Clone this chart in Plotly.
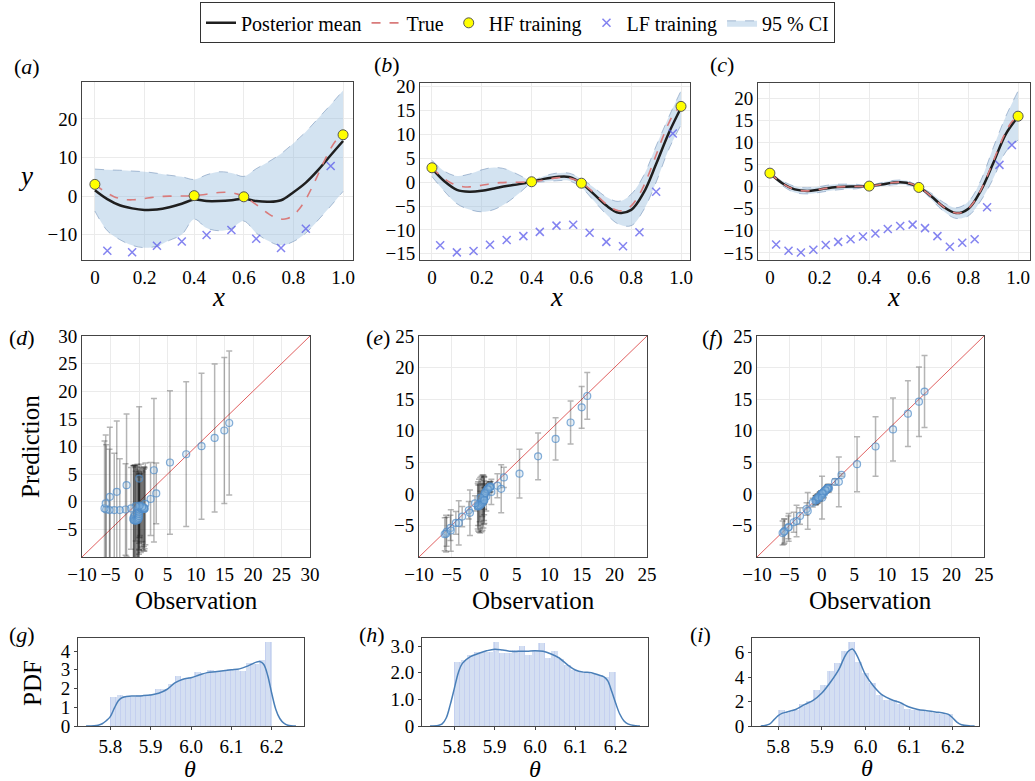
import plotly.graph_objects as go

W, H = 1035, 781
FONT = "Liberation Serif"

# ---------------- data ----------------
x_grid = [0.0, 0.05, 0.1, 0.15, 0.2, 0.25, 0.3, 0.35, 0.4, 0.45, 0.5,
          0.55, 0.6, 0.65, 0.7, 0.75, 0.8, 0.85, 0.9, 0.95, 1.0]

x_true = [0.0, 0.025, 0.05, 0.075, 0.1, 0.125, 0.15, 0.175, 0.2, 0.225, 0.25,
          0.275, 0.3, 0.325, 0.35, 0.375, 0.4, 0.425, 0.45, 0.475, 0.5,
          0.525, 0.55, 0.575, 0.6, 0.625, 0.65, 0.675, 0.7, 0.725, 0.75,
          0.775, 0.8, 0.825, 0.85, 0.875, 0.9, 0.925, 0.95, 0.975, 1.0]
y_true = [3.03, 1.81, 0.74, -0.10, -0.66, -0.93, -0.98, -0.85, -0.64, -0.41, -0.21,
          -0.08, -0.02, 0.0, 0.0, 0.03, 0.11, 0.27, 0.48, 0.72, 0.91,
          0.99, 0.87, 0.50, -0.15, -1.07, -2.21, -3.44, -4.61, -5.52, -5.99,
          -5.84, -4.95, -3.25, -0.80, 2.27, 5.71, 9.19, 12.31, 14.65, 15.83]

hf_x = [0.0, 0.4, 0.6, 1.0]
hf_y = [3.03, 0.1, -0.2, 15.9]

# panel (a)
mean_a = [1.5, -0.8, -2.4, -3.2, -3.6, -3.5, -2.9, -2.0, -0.9, -1.3, -1.3,
          -1.1, -0.7, -1.3, -1.5, -1.1, 1.0, 3.5, 6.8, 10.6, 14.3]
upper_a = [7.0, 6.8, 6.7, 6.5, 6.3, 5.9, 5.4, 5.0, 4.3, 5.5, 6.3,
           6.0, 5.1, 7.1, 8.9, 11.0, 13.7, 16.7, 20.2, 23.7, 27.4]
lower_a = [-3.9, -9.0, -11.3, -12.8, -13.4, -13.0, -11.5, -10.0, -6.0, -8.3, -9.0,
           -8.4, -6.5, -9.6, -11.7, -12.8, -11.8, -9.6, -6.2, -2.6, 1.2]
lf_a_x = [0.05, 0.15, 0.25, 0.35, 0.45, 0.55, 0.65, 0.75, 0.85, 0.95]
lf_a_y = [-14.2, -14.6, -12.9, -11.8, -10.1, -8.8, -11.1, -13.5, -8.5, 7.8]

# panel (b)
mean_b = [2.9, 0.2, -1.6, -2.0, -1.8, -1.3, -0.8, -0.4, 0.1, 0.7, 1.1,
          1.1, -0.2, -2.5, -4.9, -6.4, -5.8, -2.2, 3.8, 10.2, 15.6]
upper_b = [4.6, 2.3, 1.3, 1.7, 2.6, 3.1, 2.7, 1.5, 0.4, 1.3, 1.9,
           1.9, 0.7, -1.1, -3.1, -4.0, -2.5, 1.4, 7.6, 13.6, 19.2]
lower_b = [1.2, -1.9, -4.5, -5.7, -6.2, -5.7, -4.3, -2.3, -0.2, 0.1, 0.3,
           0.3, -1.1, -3.9, -6.7, -8.8, -9.1, -5.8, 0.0, 6.8, 12.0]
lf_b_x = [0.033, 0.1, 0.167, 0.233, 0.3, 0.367, 0.433, 0.5, 0.567, 0.633,
          0.7, 0.767, 0.833, 0.9, 0.967]
lf_b_y = [-13.2, -14.7, -14.4, -13.1, -12.1, -11.3, -10.4, -9.1, -8.9, -10.6,
          -12.5, -13.4, -10.5, -2.0, 10.2]

# panel (c)
mean_c = [3.0, 0.75, -0.65, -0.98, -0.66, -0.22, -0.03, 0.0, 0.11, 0.47, 0.9,
          0.86, -0.15, -2.2, -4.6, -6.0, -5.0, -0.9, 5.3, 11.8, 15.8]
upper_c = [3.1, 1.3, 0.05, -0.3, 0.0, 0.45, 0.55, 0.5, 0.2, 0.9, 1.4,
           1.35, 0.05, -1.5, -3.6, -4.8, -3.4, 1.4, 8.8, 15.8, 21.6]
lower_c = [2.9, 0.2, -1.35, -1.66, -1.32, -0.9, -0.6, -0.5, 0.02, 0.05, 0.4,
           0.37, -0.35, -2.9, -5.6, -7.2, -6.6, -3.2, 1.8, 7.8, 10.5]
lf_c_x = [0.025, 0.075, 0.125, 0.175, 0.225, 0.275, 0.325, 0.375, 0.425, 0.475,
          0.525, 0.575, 0.625, 0.675, 0.725, 0.775, 0.825, 0.875, 0.925, 0.975]
lf_c_y = [-13.1, -14.5, -14.9, -14.3, -13.2, -12.5, -11.9, -11.3, -10.6, -9.6,
          -8.9, -8.6, -9.4, -11.2, -13.6, -12.7, -11.9, -4.7, 4.9, 9.4]

# parity panels (d)-(f)
obs = [3.03, 2.03, 1.11, 0.33, -0.28, -0.69, -0.92, -0.99, -0.93, -0.79,
       -0.60, -0.41, -0.25, -0.12, -0.04, -0.01, 0.00, 0.00, 0.02, 0.07,
       0.16, 0.30, 0.47, 0.66, 0.84, 0.96, 0.98, 0.86, 0.57, 0.10,
       -0.57, -1.40, -2.36, -3.37, -4.34, -5.17, -5.76, -6.05, -5.84, -5.12,
       -3.90, -2.18, 0.03, 2.62, 5.43, 8.28, 10.97, 13.27, 14.97, 15.83]
pred_d = [1.5, 0.5, -0.4, -1.2, -1.8, -2.4, -2.8, -3.1, -3.3, -3.4,
          -3.4, -3.4, -3.3, -3.1, -2.9, -2.6, -2.2, -1.8, -1.4, -1.0,
          -0.8, -1.1, -1.3, -1.3, -1.3, -1.3, -1.2, -1.1, -0.9, -0.7,
          -0.8, -1.2, -1.4, -1.5, -1.5, -1.5, -1.4, -1.2, -0.3, 0.9,
          1.8, 3.0, 4.2, 5.7, 7.1, 8.6, 10.05, 11.55, 12.9, 14.25]
err_d = [5.5, 6.6, 7.4, 8.0, 8.6, 9.1, 9.4, 9.6, 9.8, 9.9,
         9.9, 9.7, 9.5, 9.0, 8.4, 7.9, 7.3, 6.8, 6.1, 5.5,
         5.3, 6.2, 6.9, 7.4, 7.6, 7.6, 7.3, 7.0, 6.3, 5.7,
         6.3, 7.4, 8.3, 9.3, 10.3, 11.0, 11.7, 12.2, 12.4, 12.6,
         12.8, 12.9, 13.0, 13.0, 13.0, 13.1, 13.2, 13.4, 13.2, 13.05]
pred_e = [2.6, 1.3, 0.3, -0.4, -1.0, -1.5, -1.8, -1.95, -2.0, -1.9,
          -1.8, -1.6, -1.4, -1.2, -1.0, -0.8, -0.6, -0.45, -0.3, -0.05,
          0.2, 0.45, 0.7, 0.9, 1.05, 1.15, 1.15, 1.05, 0.7, 0.1,
          -0.6, -1.5, -2.6, -3.6, -4.6, -5.4, -6.0, -6.4, -6.3, -5.8,
          -4.6, -3.0, -1.0, 0.8, 3.2, 5.95, 8.7, 11.3, 13.7, 15.5]
err_e = [1.6, 1.9, 2.0, 2.3, 2.6, 2.9, 3.2, 3.6, 3.9, 4.2,
         4.4, 4.4, 4.4, 4.2, 3.8, 3.4, 2.7, 2.0, 1.3, 0.6,
         0.35, 0.45, 0.6, 0.7, 0.8, 0.8, 0.8, 0.8, 0.8, 0.85,
         1.0, 1.2, 1.4, 1.6, 1.8, 2.0, 2.3, 2.6, 2.9, 3.3,
         3.5, 3.6, 3.7, 3.8, 3.85, 3.7, 3.35, 3.4, 3.3, 3.7]
pred_f = [3.0, 1.9, 0.9, 0.1, -0.4, -0.8, -1.0, -1.05, -1.0, -0.85,
          -0.7, -0.5, -0.35, -0.2, -0.1, -0.05, 0.0, 0.0, 0.03, 0.08,
          0.17, 0.3, 0.47, 0.65, 0.82, 0.93, 0.95, 0.85, 0.55, 0.1,
          -0.55, -1.4, -2.4, -3.5, -4.5, -5.3, -5.9, -6.2, -6.0, -5.3,
          -4.3, -2.7, -0.6, 1.9, 4.7, 7.5, 10.2, 12.7, 14.6, 16.2]
err_f = [0.2, 0.5, 0.6, 0.7, 0.7, 0.7, 0.7, 0.7, 0.7, 0.7,
         0.7, 0.7, 0.7, 0.65, 0.6, 0.55, 0.5, 0.4, 0.3, 0.15,
         0.15, 0.3, 0.4, 0.5, 0.55, 0.55, 0.55, 0.5, 0.4, 0.25,
         0.4, 0.7, 1.0, 1.3, 1.6, 1.8, 1.9, 1.9, 2.0, 2.2,
         2.5, 2.9, 3.4, 3.95, 4.35, 4.7, 5.0, 5.2, 5.5, 5.7]
diag = [-10, 30]

# histograms (g)-(i)
bin_centers = [5.808, 5.824, 5.840, 5.856, 5.872, 5.888, 5.904, 5.920, 5.936,
               5.952, 5.968, 5.984, 6.000, 6.016, 6.032, 6.048, 6.064, 6.080,
               6.096, 6.112, 6.128, 6.144, 6.160, 6.176, 6.192]
bin_width = 0.016
hist_g = [1.53, 1.63, 1.60, 1.56, 1.67, 1.68, 1.70, 1.98, 1.98, 2.26, 2.65, 2.53,
          2.60, 2.88, 2.82, 3.00, 2.93, 2.93, 3.05, 3.02, 2.96, 3.37, 3.30, 3.53, 4.49]
hist_h = [2.39, 2.48, 2.65, 2.78, 2.78, 2.78, 3.15, 2.75, 2.72, 2.85, 3.00, 2.65,
          2.85, 3.12, 2.55, 2.80, 2.50, 2.30, 2.10, 2.05, 2.00, 1.95, 1.90, 1.85, 2.02]
hist_i = [1.35, 1.16, 1.30, 1.84, 2.08, 2.97, 3.38, 4.54, 5.14, 6.16, 6.90, 5.27,
          4.32, 3.51, 2.57, 2.16, 2.16, 1.76, 1.41, 1.35, 1.27, 1.14, 1.08, 1.00, 0.95]

kde_g_x = [5.74, 5.76, 5.77, 5.78, 5.79, 5.80, 5.81, 5.82, 5.83, 5.84, 5.86, 5.88,
           5.90, 5.92, 5.94, 5.96, 5.98, 6.00, 6.02, 6.04, 6.06, 6.08, 6.10, 6.12,
           6.14, 6.16, 6.17, 6.18, 6.19, 6.20, 6.21, 6.22, 6.23, 6.24, 6.26]
kde_g_y = [0.0, 0.01, 0.04, 0.12, 0.28, 0.5, 0.95, 1.35, 1.52, 1.58, 1.60, 1.62,
           1.66, 1.75, 1.95, 2.30, 2.50, 2.58, 2.72, 2.85, 2.90, 2.95, 3.00, 3.05,
           3.20, 3.40, 3.44, 3.30, 2.70, 1.75, 0.90, 0.40, 0.15, 0.04, 0.0]
kde_h_x = [5.74, 5.76, 5.77, 5.78, 5.79, 5.80, 5.81, 5.82, 5.84, 5.86, 5.88, 5.90,
           5.92, 5.94, 5.96, 5.98, 6.00, 6.02, 6.04, 6.06, 6.08, 6.10, 6.12, 6.14,
           6.16, 6.17, 6.18, 6.19, 6.20, 6.21, 6.22, 6.23, 6.25, 6.26]
kde_h_y = [0.0, 0.02, 0.08, 0.3, 0.8, 1.4, 2.0, 2.35, 2.6, 2.72, 2.82, 2.88,
           2.85, 2.8, 2.8, 2.8, 2.82, 2.8, 2.7, 2.55, 2.3, 2.1, 2.02, 2.0,
           1.9, 1.85, 1.7, 1.3, 0.85, 0.45, 0.2, 0.08, 0.01, 0.0]
kde_i_x = [5.76, 5.77, 5.78, 5.79, 5.80, 5.81, 5.82, 5.84, 5.86, 5.88, 5.90, 5.92,
           5.94, 5.95, 5.96, 5.97, 5.98, 5.99, 6.00, 6.02, 6.04, 6.06, 6.08, 6.10,
           6.12, 6.14, 6.16, 6.18, 6.19, 6.20, 6.21, 6.22, 6.24, 6.25]
kde_i_y = [0.0, 0.05, 0.15, 0.5, 0.85, 1.05, 1.15, 1.35, 1.75, 2.1, 2.7, 3.6,
           4.7, 5.5, 6.1, 6.3, 5.8, 5.0, 4.2, 3.2, 2.5, 2.15, 1.9, 1.55,
           1.35, 1.25, 1.15, 1.05, 0.95, 0.65, 0.3, 0.1, 0.01, 0.0]

# ---------------- style ----------------
BAND_FILL = "rgba(150,188,222,0.42)"
BAND_EDGE = "rgba(110,140,180,0.55)"
TRUE_COL = "#d97b7b"
MEAN_COL = "#1f1f1f"
LF_COL = "rgba(90,90,235,0.75)"
GRID = "#ebebeb"

boxes = {
    1: ((82, 353), (82, 260)),
    2: ((420, 690), (83, 260)),
    3: ((758, 1030), (83, 260)),
    4: ((82, 310), (336, 557)),
    5: ((419, 647), (336, 557)),
    6: ((757, 984), (336, 557)),
    7: ((78, 304), (638, 726)),
    8: ((422, 648), (638, 726)),
    9: ((752, 979), (638, 726)),
}

fig = go.Figure()


def ax(k):
    return ("x" if k == 1 else f"x{k}"), ("y" if k == 1 else f"y{k}")


# ---- GP panels ----
gp = [
    (1, mean_a, upper_a, lower_a, lf_a_x, lf_a_y),
    (2, mean_b, upper_b, lower_b, lf_b_x, lf_b_y),
    (3, mean_c, upper_c, lower_c, lf_c_x, lf_c_y),
]
for k, mean, up, lo, lfx, lfy in gp:
    xa, ya = ax(k)
    first = k == 1
    fig.add_trace(go.Scatter(x=x_grid, y=up, xaxis=xa, yaxis=ya, mode="lines",
                             line=dict(color=BAND_EDGE, width=1, dash="dash", shape="spline"),
                             showlegend=False, hoverinfo="skip"))
    fig.add_trace(go.Scatter(x=x_grid, y=lo, xaxis=xa, yaxis=ya, mode="lines",
                             line=dict(color=BAND_EDGE, width=1, dash="dash", shape="spline"),
                             fill="tonexty", fillcolor=BAND_FILL, name="95 % CI",
                             legendrank=5, showlegend=first))
    fig.add_trace(go.Scatter(x=x_grid, y=mean, xaxis=xa, yaxis=ya, mode="lines",
                             line=dict(color=MEAN_COL, width=2.5, shape="spline"),
                             name="Posterior mean", legendrank=1, showlegend=first))
    fig.add_trace(go.Scatter(x=x_true, y=y_true, xaxis=xa, yaxis=ya, mode="lines",
                             line=dict(color=TRUE_COL, width=1.6, dash="dash", shape="spline"),
                             name="True", legendrank=2, showlegend=first))
    fig.add_trace(go.Scatter(x=hf_x, y=hf_y, xaxis=xa, yaxis=ya, mode="markers",
                             marker=dict(color="#ffff00", size=10, line=dict(color="#555", width=1)),
                             name="HF training", legendrank=3, showlegend=first, cliponaxis=False))
    fig.add_trace(go.Scatter(x=lfx, y=lfy, xaxis=xa, yaxis=ya, mode="markers",
                             marker=dict(symbol="x-thin", size=8, color=LF_COL,
                                         line=dict(color=LF_COL, width=1.5)),
                             name="LF training", legendrank=4, showlegend=first))

# ---- parity panels ----
for k, pred, err in [(4, pred_d, err_d), (5, pred_e, err_e), (6, pred_f, err_f)]:
    xa, ya = ax(k)
    fig.add_trace(go.Scatter(x=diag, y=diag, xaxis=xa, yaxis=ya, mode="lines",
                             line=dict(color="#e06060", width=1), showlegend=False))
    fig.add_trace(go.Scatter(x=obs, y=pred, xaxis=xa, yaxis=ya, mode="markers",
                             marker=dict(symbol="circle", size=7, color="rgba(160,198,230,0.25)",
                                         line=dict(color="rgba(80,140,200,0.7)", width=1.2)),
                             error_y=dict(type="data", array=err, color="rgba(30,30,30,0.33)",
                                          thickness=1.5, width=3),
                             showlegend=False))

# ---- histogram panels ----
for k, hist, kx, ky in [(7, hist_g, kde_g_x, kde_g_y), (8, hist_h, kde_h_x, kde_h_y),
                        (9, hist_i, kde_i_x, kde_i_y)]:
    xa, ya = ax(k)
    fig.add_trace(go.Bar(x=bin_centers, y=hist, width=bin_width, xaxis=xa, yaxis=ya,
                         marker=dict(color="rgba(208,220,241,0.9)",
                                     line=dict(width=0),
                                     pattern=dict(shape="|", fgcolor="rgba(150,166,236,0.55)",
                                                  size=5, solidity=0.2, fillmode="overlay")),
                         showlegend=False))
    fig.add_trace(go.Scatter(x=kx, y=ky, xaxis=xa, yaxis=ya, mode="lines",
                             line=dict(color="#4a7fb8", width=1.5, shape="spline"),
                             showlegend=False))

# ---------------- axes ----------------
tickfont = dict(family=FONT, size=19, color="black")
ranges = {
    1: ([-0.052, 1.04], [-16.6, 29.6]),
    2: ([-0.048, 1.036], [-16.3, 20.8]),
    3: ([-0.048, 1.048], [-16.6, 23.4]),
    4: ([-10, 30], [-10, 30]),
    5: ([-10, 25], [-10, 25]),
    6: ([-10, 25], [-10, 25]),
    7: ([5.72, 6.28], [0, 4.7]),
    8: ([5.72, 6.28], [0, 3.3]),
    9: ([5.74, 6.26], [0, 7.2]),
}
xticks_gp = ([0, 0.2, 0.4, 0.6, 0.8, 1.0], ["0", "0.2", "0.4", "0.6", "0.8", "1.0"])
theta_ticks = ([5.8, 5.9, 6.0, 6.1, 6.2], ["5.8", "5.9", "6.0", "6.1", "6.2"])

for k, ((x0, x1), (y0, y1)) in boxes.items():
    xd = [x0 / W, x1 / W]
    yd = [1 - y1 / H, 1 - y0 / H]
    xa, ya = ax(k)
    xr, yr = ranges[k]
    common = dict(showline=True, mirror=True, linecolor="#444", linewidth=1,
                  tickfont=tickfont, zeroline=False, fixedrange=True, automargin=False)
    xaxis = dict(domain=xd, range=xr, anchor=ya, **common)
    yaxis = dict(domain=yd, range=yr, anchor=xa, **common)
    if k <= 3:
        xaxis.update(tickvals=xticks_gp[0], ticktext=xticks_gp[1], showgrid=True,
                     gridcolor=GRID, ticks="")
        if k == 1:
            yaxis.update(tickvals=[-10, 0, 10, 20])
        else:
            yaxis.update(tickvals=[-15, -10, -5, 0, 5, 10, 15, 20])
        yaxis.update(showgrid=True, gridcolor=GRID, ticks="")
    elif k <= 6:
        top = 30 if k == 4 else 25
        xaxis.update(tickvals=list(range(-10, top + 1, 5)), showgrid=True,
                     gridcolor=GRID, ticks="")
        yaxis.update(tickvals=list(range(-5, top + 1, 5)), showgrid=True,
                     gridcolor=GRID, ticks="")
    else:
        xaxis.update(tickvals=theta_ticks[0], ticktext=theta_ticks[1], showgrid=False,
                     ticks="outside", ticklen=3, tickcolor="#444")
        if k == 7:
            yaxis.update(tickvals=[0, 1, 2, 3, 4])
        elif k == 8:
            yaxis.update(tickvals=[0, 1, 2, 3], ticktext=["0", "1.0", "2.0", "3.0"])
        else:
            yaxis.update(tickvals=[0, 2, 4, 6])
        yaxis.update(showgrid=False, ticks="outside", ticklen=3, tickcolor="#444")
    key = "" if k == 1 else str(k)
    fig.layout["xaxis" + key] = xaxis
    fig.layout["yaxis" + key] = yaxis


# ---------------- annotations ----------------
def ann(text, x, y, size, angle=0):
    fig.add_annotation(text=text, x=x / W, y=1 - y / H, xref="paper", yref="paper",
                       showarrow=False, textangle=angle, xanchor="center", yanchor="middle",
                       font=dict(family=FONT, size=size, color="black"))


for lab, (px, py) in {"a": (27, 66), "b": (387, 64), "c": (722, 64),
                      "d": (22, 337), "e": (378, 337), "f": (712, 337),
                      "g": (22, 634), "h": (372, 634), "i": (700, 634)}.items():
    ann(f"(<i>{lab}</i>)", px, py, 22)

ann("<i>y</i>", 25, 176, 27)
for cx in (218, 556, 893):
    ann("<i>x</i>", cx, 297, 27)
ann("Prediction", 30, 447, 25, angle=-90)
for cx in (196, 533, 870):
    ann("Observation", cx, 600, 25)
ann("PDF", 32, 683, 25, angle=-90)
for cx, cy in ((190, 769), (535, 769), (867, 768)):
    ann("<i>θ</i>", cx, cy, 24)

fig.update_layout(
    width=W, height=H, margin=dict(l=0, r=0, t=0, b=0, autoexpand=False),
    paper_bgcolor="white", plot_bgcolor="white",
    font=dict(family=FONT, color="black"),
    bargap=0,
    legend=dict(orientation="h", x=0.5, xanchor="center", y=0.997, yanchor="top",
                bgcolor="white", bordercolor="#333", borderwidth=1,
                font=dict(family=FONT, size=20, color="black"),
                itemwidth=30, traceorder="normal"),
)

fig.write_html("out.html")
